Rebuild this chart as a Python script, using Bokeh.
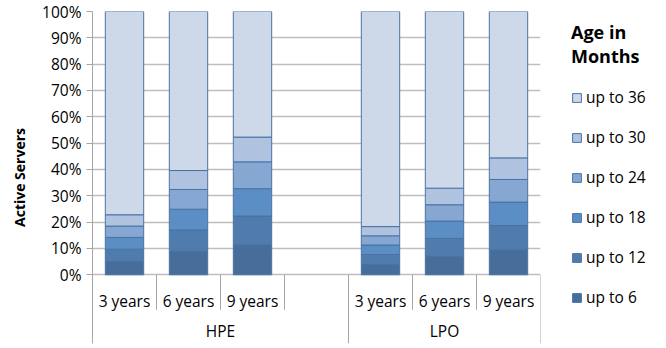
from bokeh.plotting import figure
from bokeh.layouts import row
from bokeh.models import (FactorRange, ColumnDataSource, Legend, LegendItem, FixedTicker,
                          PrintfTickFormatter, Range1d)
from bokeh.core.properties import value
from bokeh.embed import file_html
from bokeh.resources import INLINE

# ---------------- data ----------------
groups = ["HPE", "LPO"]
group_periods = [["3 years", "6 years", "9 years", " "],
                 ["3 years", "6 years", "9 years"]]
bar_groups = ["HPE", "HPE", "HPE", "LPO", "LPO", "LPO"]
bar_periods = ["3 years", "6 years", "9 years", "3 years", "6 years", "9 years"]
series = ["up to 6", "up to 12", "up to 18", "up to 24", "up to 30", "up to 36"]
up_to_6 = [5.1, 8.9, 11.4, 3.9, 7.0, 9.5]
up_to_12 = [4.6, 8.1, 10.9, 3.8, 6.8, 9.2]
up_to_18 = [4.5, 7.9, 10.4, 3.6, 6.6, 8.9]
up_to_24 = [4.3, 7.5, 10.2, 3.5, 6.2, 8.6]
up_to_30 = [4.3, 7.2, 9.4, 3.5, 6.3, 8.2]
up_to_36 = [77.2, 60.4, 47.7, 81.7, 67.1, 55.6]
y_ticks = [0, 10, 20, 30, 40, 50, 60, 70, 80, 90, 100]
legend_title = "Age in\nMonths"
colors = ["#476e9b", "#4f7cad", "#5a8ec4", "#85a7d2", "#afc2df", "#cdd8e9"]

FONT = "Open Sans"
AX = "#a6a6a6"
EDGE = "#4a72a4"

factors = [(g, per) for g, pers in zip(groups, group_periods) for per in pers]
bar_x = list(zip(bar_groups, bar_periods))

src = ColumnDataSource(dict(x=bar_x, **{s: v for s, v in zip(
    series, [up_to_6, up_to_12, up_to_18, up_to_24, up_to_30, up_to_36])}))

# label area below the value axis (in value units)
sub_depth = -13.3
grp_depth = -26.1

p = figure(x_range=FactorRange(factors=factors, group_padding=0, subgroup_padding=0,
                               factor_padding=0, range_padding=0),
           y_range=Range1d(grp_depth, 100),
           width=545, height=348, min_border_left=92, min_border_right=5,
           min_border_top=11, min_border_bottom=5,
           x_axis_location=None, output_backend="svg", toolbar_location=None)
p.outline_line_color = None
p.background_fill_color = "white"
p.border_fill_color = "white"

renderers = p.vbar_stack(series, x="x", width=0.6, color=colors, source=src,
                         line_color=EDGE, line_width=1)

# y axis
ya = p.yaxis[0]
ya.ticker = FixedTicker(ticks=y_ticks)
ya.formatter = PrintfTickFormatter(format="%d%%")
ya.major_tick_in = 0
ya.major_tick_out = 6
ya.minor_tick_line_color = None
ya.axis_line_color = AX
ya.major_tick_line_color = AX
ya.major_label_text_font = FONT
ya.major_label_text_font_size = "15.5px"
ya.major_label_text_color = "#000000"
ya.major_label_standoff = 5
ya.axis_label = "Active Servers"
ya.axis_label_text_font = FONT
ya.axis_label_text_font_style = "bold"
ya.axis_label_text_font_size = "14px"
ya.axis_label_text_color = "#000000"
ya.axis_label_standoff = 10

p.xgrid.visible = False
p.ygrid.ticker = FixedTicker(ticks=y_ticks)
p.ygrid.grid_line_color = "#bebebe"
p.ygrid.grid_line_width = 1.5

# category separators (synthetic slot boundaries)
sub_x, grp_x = [], []
pos = 0
for pers in group_periods:
    for k in range(1, len(pers)):
        sub_x.append(pos + k)
    pos += len(pers)
    grp_x.append(pos)
p.segment(x0=sub_x, x1=sub_x, y0=[0] * len(sub_x), y1=[sub_depth] * len(sub_x),
          line_color=AX, line_width=1)
p.segment(x0=grp_x, x1=grp_x, y0=[0] * len(grp_x), y1=[grp_depth] * len(grp_x),
          line_color=AX, line_width=1)

# category labels
p.text(x=bar_x, y=[-9.8] * len(bar_x), text=bar_periods, text_align="center",
       text_baseline="middle", text_font=value(FONT), text_font_size="15.5px",
       text_color="#000000")
p.text(x=groups, y=[-21.2] * len(groups), text=groups, text_align="center",
       text_baseline="middle", text_font=value(FONT), text_font_size="15.5px",
       text_color="#000000")

# ---------------- legend panel ----------------
lg = figure(width=121, height=348, min_border=0, min_border_left=0, min_border_right=0,
            min_border_top=0, min_border_bottom=0,
            x_range=Range1d(0, 1), y_range=Range1d(0, 1),
            x_axis_location=None, y_axis_location=None,
            output_backend="svg", toolbar_location=None)
lg.outline_line_color = None
lg.grid.visible = False
lg_src = ColumnDataSource(dict(x=[0], top=[0]))
lg_rs = [lg.vbar(x="x", top="top", width=0.6, fill_color=c, line_color=EDGE,
                 source=lg_src, visible=False) for c in colors]
items = [LegendItem(label=s, renderers=[r]) for s, r in zip(series, lg_rs)][::-1]
legend = Legend(items=items, location=(26, 35), title=legend_title,
                title_text_font=FONT, title_text_font_style="bold",
                title_text_font_size="18px", title_standoff=18,
                title_text_color="#000000",
                label_text_font=FONT, label_text_font_size="15.5px",
                label_text_color="#000000",
                glyph_width=11, glyph_height=11, label_height=20, spacing=18,
                label_standoff=4, padding=0, margin=0,
                inactive_fill_alpha=0,
                border_line_color=None, background_fill_alpha=0)
lg.add_layout(legend, "center")

layout = row(p, lg, spacing=0)
open("out.html", "w").write(file_html(layout, INLINE))
